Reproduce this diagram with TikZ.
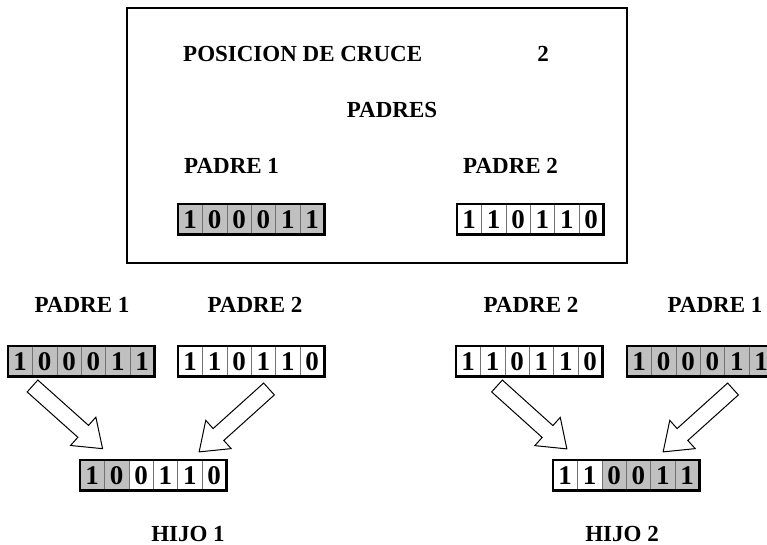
\documentclass[tikz,border=0pt]{standalone}
\usepackage{fontspec}
\setmainfont{Liberation Serif}
\usetikzlibrary{fit}
\definecolor{bitgray}{RGB}{192,192,192}
\def\cellw{24.4}
\newcommand\bitrow[4]{%
  \foreach \cc/\dd [count=\ii from 0] in {#4}{%
    \node[bitcell,fill=\cc,anchor=north west] (#1-\ii) at ({#2+\ii*\cellw},#3) {\raisebox{-2pt}{\dd}};
  }%
  \node[bitframe,fit=(#1-0)(#1-5)] (#1) {};
}
\begin{document}
\begin{tikzpicture}[x=1pt,y=-1pt,
  lbl/.style={font=\bfseries\fontsize{23}{27}\selectfont, inner sep=0},
  bitcell/.style={rectangle, draw=black!55, line width=0.5pt, minimum width=24.4pt,
    minimum height=30.5pt, inner sep=0, outer sep=0,
    font=\bfseries\fontsize{27}{27}\selectfont},
  bitframe/.style={rectangle, draw=black, line width=2.6pt, inner sep=0, outer sep=0},
  frame/.style={rectangle, draw=black, line width=2.6pt, inner sep=0},
  blockarrow/.pic={\draw[line width=1pt, fill=white]
    (0,-8) -- (68,-8) -- (68,-19) -- (94,0) -- (68,19) -- (68,8) -- (0,8) -- cycle;}
]
\useasboundingbox (0,0) rectangle (767,545);

% top box
\node[frame, minimum width=500pt, minimum height=255pt] (box) at (377,135.5) {};
\node[lbl,anchor=base west] (pos) at (183,62) {POSICION DE CRUCE};
\node[lbl,anchor=base] (two) at (543,62) {2};
\node[lbl,anchor=base] (padres) at (392,118) {PADRES};
\node[lbl,anchor=base west] (tp1) at (184,174) {PADRE 1};
\node[lbl,anchor=base west] (tp2) at (463,174) {PADRE 2};
\bitrow{tp1b}{178}{204}{bitgray/1,bitgray/0,bitgray/0,bitgray/0,bitgray/1,bitgray/1}
\bitrow{tp2b}{457}{204}{white/1,white/1,white/0,white/1,white/1,white/0}

% bottom parents
\node[lbl,anchor=base] (bp1l) at (82,312) {PADRE 1};
\node[lbl,anchor=base] (bp2l) at (255,312) {PADRE 2};
\node[lbl,anchor=base] (bp2r) at (531,312) {PADRE 2};
\node[lbl,anchor=base] (bp1r) at (715,312) {PADRE 1};
\bitrow{b1l}{8}{346}{bitgray/1,bitgray/0,bitgray/0,bitgray/0,bitgray/1,bitgray/1}
\bitrow{b2l}{178}{346}{white/1,white/1,white/0,white/1,white/1,white/0}
\bitrow{b2r}{456}{346}{white/1,white/1,white/0,white/1,white/1,white/0}
\bitrow{b1r}{627}{346}{bitgray/1,bitgray/0,bitgray/0,bitgray/0,bitgray/1,bitgray/1}

% children
\bitrow{h1}{80}{460}{bitgray/1,bitgray/0,white/0,white/1,white/1,white/0}
\bitrow{h2}{553}{460}{white/1,white/1,bitgray/0,bitgray/0,bitgray/1,bitgray/1}
\node[lbl,anchor=base] (hijo1) at (188,541) {HIJO 1};
\node[lbl,anchor=base] (hijo2) at (622,541) {HIJO 2};

% block arrows
\coordinate (a1t) at (32.5,386);
\coordinate (a2t) at (269,389);
\coordinate (a3t) at (497,386);
\coordinate (a4t) at (733,389);
\pic[rotate=-41.8] at (a1t) {blockarrow};
\pic[rotate=-138] at (a2t) {blockarrow};
\pic[rotate=-42] at (a3t) {blockarrow};
\pic[rotate=-138] at (a4t) {blockarrow};
\end{tikzpicture}
\end{document}
